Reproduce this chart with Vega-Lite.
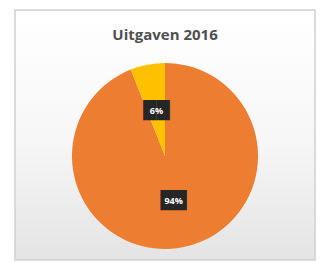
{
  "$schema": "https://vega.github.io/schema/vega-lite/v6.json",
  "width": 300,
  "height": 250,
  "autosize": "none",
  "padding": {"left": 15, "top": 10, "right": 9, "bottom": 2},
  "background": "white",
  "view": {
    "stroke": "#d0d0d0",
    "strokeWidth": 1.5,
    "fill": {
      "gradient": "linear",
      "x1": 0, "y1": 0, "x2": 0, "y2": 1,
      "stops": [{"offset": 0, "color": "#ffffff"}, {"offset": 0.5, "color": "#f7f7f7"}, {"offset": 1, "color": "#e4e4e4"}]
    }
  },
  "title": {
    "text": "Uitgaven 2016",
    "font": "Open Sans",
    "fontSize": 15,
    "fontWeight": "bold",
    "color": "#505050",
    "anchor": "middle",
    "orient": "top",
    "baseline": "middle",
    "offset": -40
  },
  "data": {
    "values": [
      {"categorie": "A", "waarde": 94, "label": "94%", "volgorde": 1},
      {"categorie": "B", "waarde": 6, "label": "6%", "volgorde": 2}
    ]
  },
  "encoding": {
    "theta": {"field": "waarde", "type": "quantitative", "stack": true},
    "order": {"field": "volgorde", "type": "quantitative"}
  },
  "layer": [
    {
      "mark": {"type": "arc", "radius": 93, "yOffset": 21},
      "encoding": {
        "color": {
          "field": "categorie",
          "type": "nominal",
          "scale": {"domain": ["A", "B"], "range": ["#ED7D31", "#FFC000"]},
          "legend": null
        }
      }
    },
    {
      "mark": {"type": "text", "text": "██", "font": "DejaVu Sans", "fontSize": 17, "color": "#262626", "radius": 46, "yOffset": 21, "baseline": "middle", "align": "center"},
      "encoding": {}
    },
    {
      "mark": {"type": "text", "font": "Open Sans", "fontSize": 9, "fontWeight": "bold", "color": "#ffffff", "radius": 46, "yOffset": 21, "baseline": "middle", "align": "center"},
      "encoding": {"text": {"field": "label", "type": "nominal"}}
    }
  ]
}
